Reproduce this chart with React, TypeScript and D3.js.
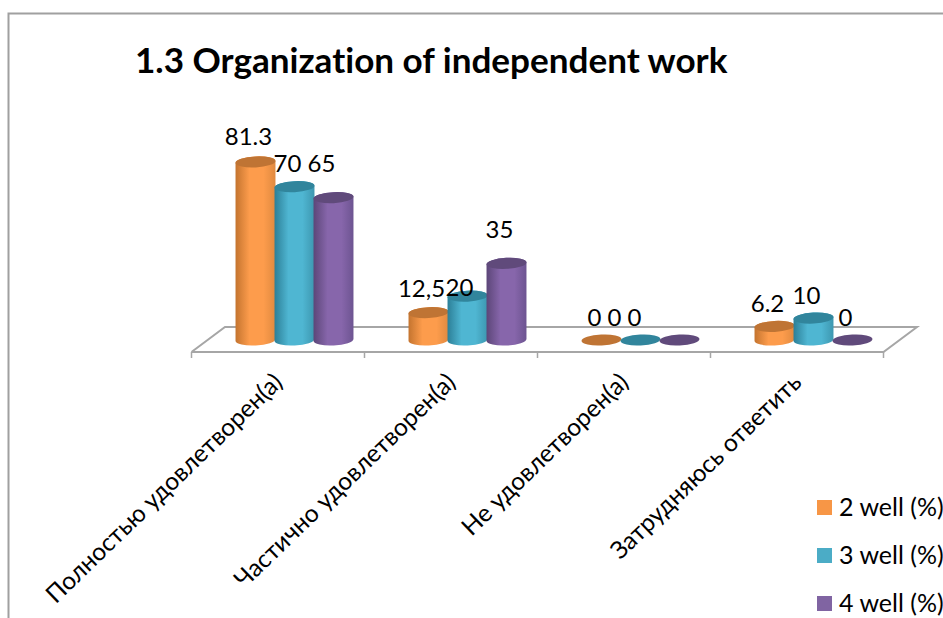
import React from 'react';
import * as d3 from 'd3';

const categories = ['Полностью удовлетворен(а)', 'Частично удовлетворен(а)', 'Не удовлетворен(а)', 'Затрудняюсь ответить'];
const seriesNames = ['2 well (%)', '3 well (%)', '4 well (%)'];
const well2 = [81.3, 12.5, 0, 6.2];
const well3 = [70, 20, 0, 10];
const well4 = [65, 35, 0, 0];
const well2Labels = ['81.3', '12,5', '0', '6.2'];
const well3Labels = ['70', '20', '0', '10'];
const well4Labels = ['65', '35', '0', '0'];
const title = '1.3 Organization of independent work';

const seriesValues = [well2, well3, well4];
const seriesLabels = [well2Labels, well3Labels, well4Labels];

// colours per series: edge dark, mid light, right edge, top cap
const palettes = [
  { dark: '#c4742f', light: '#fd9c4c', edge: '#e08a40', cap: '#bf7434', key: '#f79646' },
  { dark: '#2c7f97', light: '#4fb6d2', edge: '#3d97b0', cap: '#31859c', key: '#4bacc6' },
  { dark: '#5c4678', light: '#8766ab', edge: '#6d5491', cap: '#604a7b', key: '#8064a2' },
];

// hand-moved data labels in the original, keyed series-category
const labelNudge: Record<string, [number, number]> = {
  '0-0': [0, -3],
  '1-0': [0, -1],
  '2-0': [-5, -12],
  '2-1': [0, -11],
  '0-1': [0, -2],
  '1-1': [-1, 14],
  '1-2': [-19, 0],
  '2-2': [-38, 0],
};

const FONT = 'Lato, "Open Sans", sans-serif';
const RX = 20;
const RY = 5.5;
const TILT = 3; // degrees the ellipses lean

function cylinderPath(cx: number, top: number, base: number) {
  const ex = RX * Math.cos((TILT * Math.PI) / 180);
  const ey = RX * Math.sin((TILT * Math.PI) / 180);
  const arc = `A${RX},${RY} ${-TILT} 0 0`;
  return `M${cx - ex},${top + ey}L${cx - ex},${base + ey}${arc} ${cx + ex},${base - ey}L${cx + ex},${top - ey}${arc} ${cx - ex},${top + ey}Z`;
}

export default function App() {
  const x0 = d3.scaleBand<string>().domain(categories).range([191.5, 883.5]);
  const xs = d3.scaleBand<string>().domain(seriesNames).range([44.5, 161.5]);
  const y = d3.scaleLinear().domain([0, 100]).range([340, 121]);
  const ticks = [...categories.map(c => x0(c) as number), 883.5];

  const floor = d3.line()([
    [191.5, 352],
    [225, 327],
    [917, 327],
    [883.5, 352],
    [191.5, 352],
  ]) as string;

  return (
    <svg width={943} height={618} style={{ position: 'absolute', left: 0, top: 0, display: 'block', background: '#fff', fontVariantLigatures: 'none' }}>
      <defs>
        {palettes.map((p, i) => (
          <linearGradient key={i} id={`cyl${i}`} x1="0" x2="1" y1="0" y2="0">
            <stop offset="0" stopColor={p.dark} />
            <stop offset="0.35" stopColor={p.light} />
            <stop offset="0.7" stopColor={p.light} />
            <stop offset="1" stopColor={p.edge} />
          </linearGradient>
        ))}
      </defs>

      <path d="M8.5,618V13.5H943" fill="none" stroke="#a0a0a0" strokeWidth={2} />

      <text x={135} y={73} fontFamily={FONT} fontWeight={700} fontSize={35.1} fill="#000">{title}</text>

      <path d={floor} fill="none" stroke="#a6a6a6" strokeWidth={2} />
      {ticks.map(t => (
        <line key={t} x1={t} x2={t} y1={352} y2={358} stroke="#a6a6a6" strokeWidth={1.5} />
      ))}

      {seriesNames.map((s, si) =>
        categories.map((c, ci) => {
          const cx = (x0(c) as number) + (xs(s) as number) + xs.bandwidth() / 2;
          const v = seriesValues[si][ci];
          return (
            <g key={c + s}>
              {v > 0 && <path d={cylinderPath(cx, y(v), y(0))} fill={`url(#cyl${si})`} />}
              <ellipse cx={cx} cy={y(v)} rx={RX} ry={RY} transform={`rotate(${-TILT} ${cx} ${y(v)})`} fill={palettes[si].cap} />
            </g>
          );
        })
      )}

      {seriesNames.map((s, si) =>
        categories.map((c, ci) => {
          const cx = (x0(c) as number) + (xs(s) as number) + xs.bandwidth() / 2;
          const [dx, dy] = labelNudge[`${si}-${ci}`] || [0, 0];
          return (
            <text key={c + s} x={cx - 7 + dx} y={y(seriesValues[si][ci]) - 14 + dy} textAnchor="middle"
              fontFamily={FONT} fontSize={24} fill="#000">
              {seriesLabels[si][ci]}
            </text>
          );
        })
      )}

      {categories.map(c => (
        <text key={c} textAnchor="end" fontFamily={FONT} fontSize={24.5} fill="#000"
          transform={`translate(${(x0(c) as number) + x0.bandwidth() / 2 + 6},384) rotate(-44)`}>
          {c}
        </text>
      ))}

      {seriesNames.map((s, i) => (
        <g key={s} transform={`translate(817,${500 + i * 48})`}>
          <rect width={15} height={15} fill={palettes[i].key} />
          <text x={22} y={16} fontFamily={FONT} fontSize={25} fill="#000">{s}</text>
        </g>
      ))}
    </svg>
  );
}
